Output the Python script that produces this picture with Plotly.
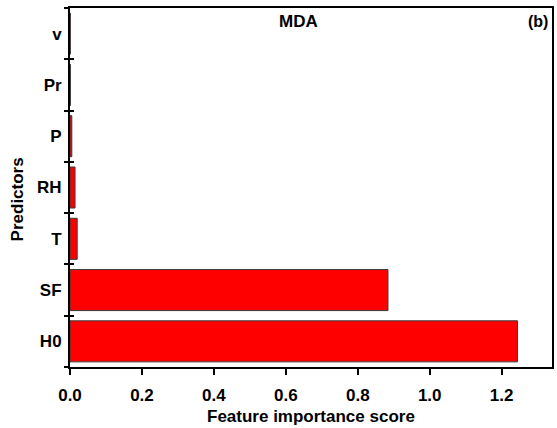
import plotly.graph_objects as go

# Predictor importance (MDA), listed bottom to top
predictors = ["H0", "SF", "T", "RH", "P", "Pr", "v"]
importance = [1.244, 0.884, 0.020, 0.014, 0.005, 0.001, 0.0008]
x_ticks = [0.0, 0.2, 0.4, 0.6, 0.8, 1.0, 1.2]
x_tick_text = ["0.0", "0.2", "0.4", "0.6", "0.8", "1.0", "1.2"]

FONT = "Liberation Sans, Arial, sans-serif"

fig = go.Figure()
fig.add_trace(go.Bar(
    x=importance, y=predictors, orientation="h",
    marker=dict(color="#FF0000", line=dict(color="#3a3a3a", width=1)),
    showlegend=False, hoverinfo="x+y",
))
# helper trace so the overlaid axis carries the inside half of the boundary ticks
fig.add_trace(go.Scatter(
    x=[0] * len(predictors), y=predictors, yaxis="y2", mode="markers",
    marker=dict(opacity=0), showlegend=False, hoverinfo="skip",
))

fig.update_layout(
    width=557, height=428,
    margin=dict(l=70, r=3, t=8, b=61),
    paper_bgcolor="white", plot_bgcolor="white",
    bargap=0.2,
    font=dict(family=FONT, color="black"),
    xaxis=dict(
        range=[0, 1.34], tickvals=x_ticks, ticktext=x_tick_text,
        ticks="outside", ticklen=6, tickwidth=1.5, tickcolor="black",
        ticklabelstandoff=6,
        showline=True, linecolor="black", linewidth=2, mirror=True,
        showgrid=False, zeroline=False,
        tickfont=dict(size=17, family=FONT, color="black", weight="bold"),
    ),
    yaxis=dict(
        type="category", categoryorder="array", categoryarray=predictors,
        range=[-0.5, 6.5],
        tickson="boundaries", ticks="outside", ticklen=4, tickwidth=1.5, tickcolor="black",
        ticklabelstandoff=3,
        showline=True, linecolor="black", linewidth=2, mirror=True,
        showgrid=False, zeroline=False,
        tickfont=dict(size=17, family=FONT, color="black", weight="bold"),
    ),
    yaxis2=dict(
        type="category", categoryorder="array", categoryarray=predictors,
        range=[-0.5, 6.5], overlaying="y", side="left",
        tickson="boundaries", ticks="inside", ticklen=4, tickwidth=1.5, tickcolor="black",
        showticklabels=False, showline=False, showgrid=False, zeroline=False,
    ),
    annotations=[
        dict(text="<b>MDA</b>", xref="paper", yref="paper", x=0.475, y=0.962,
             xanchor="center", yanchor="middle", showarrow=False,
             font=dict(size=17, family=FONT, color="black")),
        dict(text="<b>(b)</b>", xref="paper", yref="paper", x=0.996, y=0.962,
             xanchor="right", yanchor="middle", showarrow=False,
             font=dict(size=16, family=FONT, color="black")),
        dict(text="<b>Feature importance score</b>", xref="paper", yref="paper",
             x=0.5, y=-0.137, xanchor="center", yanchor="middle", showarrow=False,
             font=dict(size=17, family=FONT, color="black")),
        dict(text="<b>Predictors</b>", xref="paper", yref="paper", textangle=-90,
             x=-0.107, y=0.468, xanchor="center", yanchor="middle", showarrow=False,
             font=dict(size=17, family=FONT, color="black")),
    ],
)

fig.write_html("out.html")
